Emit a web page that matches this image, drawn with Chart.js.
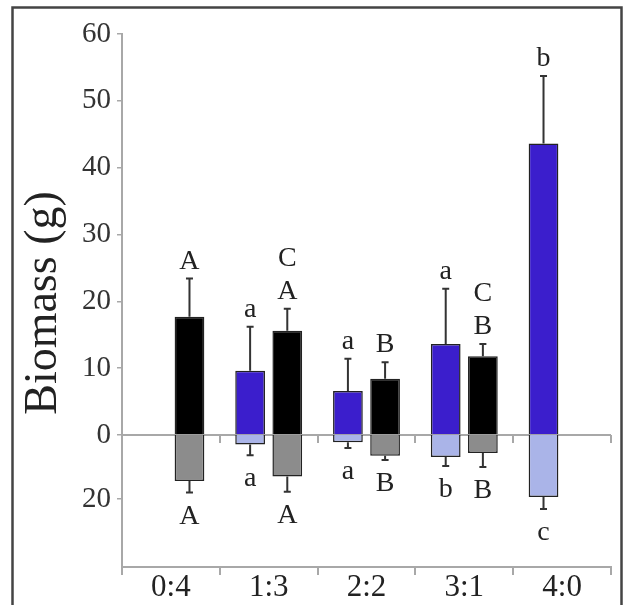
<!DOCTYPE html>
<html>
<head>
<meta charset="utf-8">
<script src="https://cdn.jsdelivr.net/npm/chart.js@4.4.1/dist/chart.umd.min.js"></script>
<style>
    html, body { margin: 0; padding: 0; background: #fff; }
    #wrap { position: relative; width: 625px; height: 605px; }
</style>
</head>
<body>
<div id="wrap"><canvas id="biomass-chart" width="625" height="605"></canvas></div>
<script>
// biomass chart: shoot biomass up, root biomass down (own scale)

var categories = ['0:4', '1:3', '2:2', '3:1', '4:0'];

// shoot biomass (g), above the zero line
var shootBlue = [null, 9.6, 6.6, 13.6, 43.6];
var shootBlueErr = [null, 6.6, 4.8, 8.3, 10.1];
var shootBlack = [17.7, 15.6, 8.4, 11.8, null];
var shootBlackErr = [5.7, 3.3, 2.5, 1.8, null];

// root biomass (g), drawn downwards
var rootBlue = [null, 3.0, 2.3, 6.9, 19.4];
var rootBlueErr = [null, 3.3, 1.8, 2.8, 3.7];
var rootGray = [14.4, 13.0, 6.5, 5.6, null];
var rootGrayErr = [3.6, 4.7, 1.3, 4.4, null];

// significance letters
var shootBlueLetters = [null, ['a'], ['a'], ['a'], ['b']];
var shootBlackLetters = [['A'], ['C', 'A'], ['B'], ['C', 'B'], null];
var rootBlueLetters = [null, ['a'], ['a'], ['b'], ['c']];
var rootGrayLetters = [['A'], ['A'], ['B'], ['B'], null];

var shootTicks = [0, 10, 20, 30, 40, 50, 60];
var rootTicks = [20];

var serif = '"Liberation Serif", "Times New Roman", serif';
var axisGray = '#a8a8a8';
var biomassChart;

// frame around the figure and the zero line
var framePlugin = {
    id: 'frame',
    beforeDraw: function (chart) {
        let ctx = chart.ctx;
        ctx.save();
        ctx.fillStyle = '#fff';
        ctx.fillRect(0, 0, chart.width, chart.height);
        ctx.strokeStyle = '#444';
        ctx.lineWidth = 2.5;
        ctx.strokeRect(12.5, 7.5, 609, 640);

        // y title
        ctx.translate(44, 303);
        ctx.rotate(-Math.PI / 2);
        ctx.fillStyle = '#222';
        ctx.font = '46px ' + serif;
        ctx.textAlign = 'center';
        ctx.textBaseline = 'middle';
        ctx.fillText('Biomass (g)', 0, 0);
        ctx.restore();
    },
    beforeDatasetsDraw: function (chart) {
        let ctx = chart.ctx;
        let x = chart.scales.x;
        let y0 = chart.scales.y.getPixelForValue(0);
        ctx.save();
        ctx.strokeStyle = axisGray;
        ctx.lineWidth = 2;
        ctx.beginPath();
        ctx.moveTo(x.left, y0);
        ctx.lineTo(x.right, y0);
        let step = (x.right - x.left) / categories.length;
        for (let i = 1; i <= categories.length; i++) {
            let px = Math.round(x.left + i * step);
            ctx.moveTo(px, y0);
            ctx.lineTo(px, y0 + 8);
        }
        ctx.stroke();
        ctx.restore();
    }
};

// one sided error bars + letters
var errorBarPlugin = {
    id: 'errorBars',
    afterDatasetsDraw: function (chart) {
        let ctx = chart.ctx;
        ctx.save();
        chart.data.datasets.forEach(function (ds, di) {
            let meta = chart.getDatasetMeta(di);
            let scale = chart.scales[ds.yAxisID];
            meta.data.forEach(function (bar, i) {
                let v = ds.data[i];
                if (v === null || v === undefined) return;
                let yEnd = scale.getPixelForValue(v + ds.errors[i]);
                ctx.strokeStyle = '#333';
                ctx.lineWidth = 2;
                ctx.beginPath();
                ctx.moveTo(bar.x, bar.y);
                ctx.lineTo(bar.x, yEnd);
                ctx.moveTo(bar.x - 3.5, yEnd);
                ctx.lineTo(bar.x + 3.5, yEnd);
                ctx.stroke();

                let letters = ds.letters[i];
                if (!letters) return;
                ctx.fillStyle = '#222';
                ctx.font = '28px ' + serif;
                ctx.textAlign = 'center';
                ctx.textBaseline = 'alphabetic';
                if (ds.yAxisID === 'y') {
                    let base = yEnd - 10;
                    for (let k = letters.length - 1; k >= 0; k--) {
                        ctx.fillText(letters[k], bar.x, base);
                        base -= 33;
                    }
                } else {
                    let base = yEnd + 31;
                    letters.forEach(function (t) {
                        ctx.fillText(t, bar.x, base);
                        base += 33;
                    });
                }
            });
        });
        ctx.restore();
    }
};

function initializeBiomassChart() {
    let ctx = document.getElementById('biomass-chart').getContext('2d');

    let data = {
        labels: categories,
        datasets: [
            { data: shootBlue, errors: shootBlueErr, letters: shootBlueLetters, yAxisID: 'y', stack: 'left',
              backgroundColor: '#3b1ecc', borderColor: '#222', borderWidth: 1.5 },
            { data: shootBlack, errors: shootBlackErr, letters: shootBlackLetters, yAxisID: 'y', stack: 'right',
              backgroundColor: '#000', borderColor: '#222', borderWidth: 1.5 },
            { data: rootBlue, errors: rootBlueErr, letters: rootBlueLetters, yAxisID: 'yRoot', stack: 'left',
              backgroundColor: '#aab4e8', borderColor: '#222', borderWidth: 1.5 },
            { data: rootGray, errors: rootGrayErr, letters: rootGrayLetters, yAxisID: 'yRoot', stack: 'right',
              backgroundColor: '#8c8c8c', borderColor: '#222', borderWidth: 1.5 }
        ]
    };

    let tickFont = { family: serif, size: 29 };

    let options = {
        responsive: false,
        animation: false,
        categoryPercentage: 0.76,
        barPercentage: 0.8,
        layout: { padding: { top: 34, right: 14, left: 0, bottom: 0 } },
        plugins: {
            legend: { display: false },
            tooltip: { enabled: false }
        },
        scales: {
            x: {
                grid: { offset: true, drawOnChartArea: false, tickLength: 8, color: axisGray, lineWidth: 2 },
                border: { color: axisGray, width: 2 },
                ticks: { font: { family: serif, size: 31 }, color: '#222', padding: -6 },
                afterFit: function (scale) { scale.height = 38; }
            },
            yRoot: {
                type: 'linear',
                position: 'left',
                stack: 'bio',
                stackWeight: 132,
                reverse: true,
                min: 0,
                max: 41.25,
                afterBuildTicks: function (scale) {
                    scale.ticks = rootTicks.map(function (v) { return { value: v }; });
                },
                grid: { drawOnChartArea: false, tickLength: 5, color: axisGray, lineWidth: 1.5 },
                border: { color: axisGray, width: 2 },
                ticks: { font: tickFont, color: '#333', padding: 6, autoSkip: false },
                afterFit: function (scale) { scale.width = 122; }
            },
            y: {
                type: 'linear',
                position: 'left',
                stack: 'bio',
                stackWeight: 401,
                min: 0,
                max: 60,
                afterBuildTicks: function (scale) {
                    scale.ticks = shootTicks.map(function (v) { return { value: v }; });
                },
                grid: { drawOnChartArea: false, tickLength: 5, color: axisGray, lineWidth: 1.5 },
                border: { color: axisGray, width: 2 },
                ticks: { font: tickFont, color: '#333', padding: 6, autoSkip: false },
                afterFit: function (scale) { scale.width = 122; }
            }
        }
    };

    biomassChart = new Chart(ctx, {
        type: 'bar',
        data: data,
        options: options,
        plugins: [framePlugin, errorBarPlugin]
    });
}

initializeBiomassChart();
</script>
</body>
</html>
